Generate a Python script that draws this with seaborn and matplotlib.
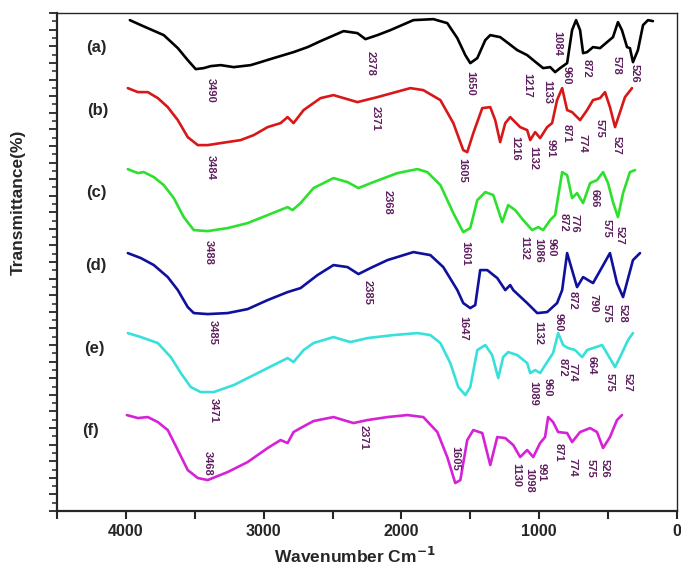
import pandas as pd
import numpy as np
import matplotlib
matplotlib.use("Agg")
import matplotlib.pyplot as plt
from matplotlib.ticker import MultipleLocator, NullFormatter
import seaborn as sns

# ---- data (wavenumber, offset transmittance) ---------------------------------

wn_a = [3971, 3891, 3725, 3623, 3551, 3493, 3435, 3384, 3312, 3217,
        3094, 3022, 2928, 2783, 2681, 2587, 2420, 2319, 2261, 2174,
        2080, 1913, 1768, 1667, 1594, 1536, 1500, 1449, 1391, 1355,
        1283, 1225, 1159, 1087, 1043, 971, 920, 884, 848, 797,
        761, 732, 703, 681, 652, 609, 558, 507, 464, 428,
        399, 362, 341, 319, 283, 246, 210, 174]
t_a = [491, 486, 476, 463, 451, 442, 443, 445, 446, 444,
       446, 449, 453, 459, 464, 470, 480, 478, 472, 476,
       481, 491, 492, 488, 473, 456, 448, 453, 471, 476,
       474, 468, 461, 456, 451, 443, 444, 439, 443, 448,
       481, 491, 481, 458, 459, 464, 463, 469, 474, 489,
       481, 464, 463, 449, 461, 486, 491, 490]

wn_b = [3986, 3913, 3841, 3768, 3696, 3623, 3551, 3478, 3406, 3312,
        3167, 3072, 2971, 2877, 2826, 2783, 2710, 2587, 2493, 2319,
        2174, 1935, 1841, 1717, 1623, 1551, 1522, 1478, 1413, 1355,
        1319, 1283, 1246, 1210, 1138, 1087, 1065, 1029, 993, 942,
        906, 870, 833, 797, 761, 703, 652, 609, 558, 522,
        486, 449, 413, 377, 326]
t_b = [423, 419, 419, 413, 404, 391, 374, 366, 366, 368,
       371, 376, 384, 388, 394, 388, 401, 413, 416, 409,
       414, 423, 421, 411, 388, 361, 359, 378, 403, 404,
       391, 369, 388, 394, 384, 381, 371, 379, 373, 384,
       388, 411, 423, 401, 399, 391, 401, 411, 413, 419,
       404, 384, 399, 414, 423]

wn_c = [3986, 3913, 3870, 3797, 3725, 3652, 3580, 3507, 3406, 3261,
        3116, 2971, 2826, 2790, 2732, 2638, 2493, 2391, 2312, 2203,
        2029, 1884, 1812, 1717, 1623, 1551, 1500, 1449, 1391, 1333,
        1268, 1225, 1174, 1116, 1051, 1007, 971, 920, 884, 833,
        797, 761, 725, 681, 630, 580, 536, 500, 464, 428,
        391, 341, 304]
t_c = [342, 338, 339, 334, 326, 313, 294, 281, 280, 283,
       288, 296, 304, 301, 308, 323, 333, 329, 323, 329,
       338, 342, 339, 326, 298, 279, 283, 311, 319, 316,
       289, 306, 301, 291, 281, 284, 281, 291, 296, 339,
       336, 313, 318, 308, 328, 331, 339, 328, 309, 294,
       318, 339, 341]

wn_d = [3986, 3891, 3797, 3696, 3623, 3551, 3507, 3406, 3261, 3116,
        2971, 2826, 2732, 2609, 2493, 2391, 2312, 2225, 2101, 1913,
        1790, 1696, 1594, 1551, 1500, 1464, 1428, 1377, 1304, 1246,
        1210, 1188, 1087, 1014, 942, 870, 833, 797, 761, 725,
        681, 609, 543, 486, 435, 391, 319, 268]
t_d = [258, 253, 246, 234, 221, 204, 198, 197, 198, 202,
       211, 219, 223, 236, 246, 244, 237, 243, 251, 259,
       256, 244, 221, 208, 203, 206, 241, 241, 233, 221,
       226, 221, 208, 198, 199, 208, 221, 258, 241, 224,
       234, 228, 244, 258, 228, 214, 251, 258]

wn_e = [3986, 3891, 3768, 3674, 3601, 3529, 3457, 3362, 3217, 3072,
        2928, 2826, 2783, 2710, 2638, 2493, 2370, 2246, 2058, 1884,
        1790, 1717, 1645, 1587, 1536, 1500, 1449, 1391, 1341, 1297,
        1261, 1225, 1159, 1087, 1065, 1029, 993, 942, 899, 862,
        826, 790, 739, 688, 652, 609, 543, 500, 449, 399,
        355, 319]
t_e = [178, 174, 168, 154, 138, 124, 119, 119, 126, 136,
       146, 153, 149, 161, 168, 174, 169, 173, 176, 178,
       176, 168, 148, 124, 116, 124, 161, 166, 156, 133,
       154, 159, 156, 148, 138, 141, 138, 149, 158, 178,
       166, 163, 161, 154, 161, 163, 166, 156, 144, 158,
       171, 178]

wn_f = [3993, 3913, 3841, 3768, 3696, 3623, 3551, 3478, 3406, 3261,
        3116, 2971, 2877, 2826, 2783, 2732, 2638, 2493, 2348, 2246,
        2101, 1957, 1841, 1739, 1667, 1609, 1572, 1522, 1478, 1413,
        1355, 1304, 1246, 1188, 1138, 1087, 1043, 993, 957, 935,
        899, 862, 797, 761, 703, 630, 580, 536, 486, 435,
        399]
t_f = [96, 93, 94, 89, 81, 61, 41, 33, 31, 39,
       49, 63, 71, 68, 79, 83, 90, 94, 88, 91,
       94, 96, 94, 79, 54, 28, 31, 71, 81, 78,
       46, 74, 73, 66, 54, 61, 54, 68, 74, 94,
       89, 79, 78, 69, 79, 83, 79, 63, 74, 91,
       96]

samples = ["(a)", "(b)", "(c)", "(d)", "(e)", "(f)"]
sample_label_pos = [(4217, 464), (4203, 401), (4217, 319), (4217, 246), (4232, 163), (4254, 81)]

# peak annotations: (text, wavenumber position, y position)
peaks_a = [("3490", 3384, 421), ("2378", 2225, 448), ("1650", 1500, 428), ("1217", 1087, 426),
           ("1133", 942, 419), ("1084", 870, 468), ("960", 797, 436), ("872", 652, 443),
           ("578", 435, 446), ("526", 304, 438)]
peaks_b = [("3484", 3384, 344), ("2371", 2188, 393), ("1605", 1558, 341), ("1216", 1174, 363),
           ("1132", 1043, 353), ("991", 920, 363), ("871", 797, 378), ("774", 688, 368),
           ("575", 558, 383), ("527", 435, 366)]
peaks_c = [("3488", 3398, 259), ("2368", 2101, 309), ("1601", 1536, 258), ("1132", 1110, 263),
           ("1086", 1007, 261), ("960", 910, 264), ("872", 825, 289), ("776", 740, 288),
           ("666", 594, 313), ("575", 507, 283), ("527", 413, 276)]
peaks_d = [("3485", 3370, 179), ("2385", 2246, 219), ("1647", 1551, 183), ("1132", 1007, 178),
           ("960", 862, 189), ("872", 754, 211), ("790", 609, 208), ("575", 507, 198),
           ("528", 391, 198)]
peaks_e = [("3471", 3362, 101), ("1089", 1043, 118), ("960", 935, 124), ("872", 833, 144),
           ("774", 761, 139), ("664", 616, 146), ("575", 486, 129), ("527", 355, 129)]
peaks_f = [("3468", 3406, 48), ("2371", 2275, 74), ("1605", 1609, 53), ("1130", 1165, 36),
           ("1098", 1075, 31), ("991", 985, 39), ("871", 862, 59), ("774", 761, 44),
           ("575", 625, 43), ("526", 528, 43)]

x_major = [0, 1000, 2000, 3000, 4000]
x_minor = [500, 1500, 2500, 3500, 4500]

# ---- styling -----------------------------------------------------------------

colors = ["#000000", "#d81818", "#2ee02e", "#10109e", "#38e0dc", "#d622d6"]
label_color = "#5e1f5e"

sns.set_style("ticks")
plt.rcParams['font.family'] = ['Liberation Sans', 'DejaVu Sans']

frames = []
for name, wn, t in zip(samples,
                       [wn_a, wn_b, wn_c, wn_d, wn_e, wn_f],
                       [t_a, t_b, t_c, t_d, t_e, t_f]):
    frames.append(pd.DataFrame({"wn": wn, "T": t, "sample": name}))
df = pd.concat(frames, ignore_index=True)

fig = plt.figure(figsize=(6.81, 5.71), dpi=100)
ax = fig.add_axes([0.0837, 0.105, 0.9103, 0.872])

sns.lineplot(data=df, x="wn", y="T", hue="sample", palette=colors,
             estimator=None, sort=False, linewidth=1.9, legend=False, ax=ax)

ax.set_xlim(4500, 0)
ax.set_ylim(0, 498)

ax.set_xticks(x_major)
ax.set_xticklabels([str(v) for v in x_major], fontweight="bold", fontsize=11.5)
ax.set_xticks(x_minor, minor=True)
ax.tick_params(axis="x", which="both", direction="out", length=6, width=1.5)

ax.yaxis.set_major_locator(MultipleLocator(16.6))
ax.yaxis.set_minor_locator(MultipleLocator(8.3))
ax.yaxis.set_major_formatter(NullFormatter())
ax.tick_params(axis="y", which="major", direction="out", length=6, width=1.3)
ax.tick_params(axis="y", which="minor", direction="out", length=3.5, width=1.1)

for side in ["left", "bottom"]:
    ax.spines[side].set_linewidth(1.6)
for side in ["top", "right"]:
    ax.spines[side].set_linewidth(1.0)

ax.set_xlabel("Wavenumber Cm$^{\\mathbf{-1}}$", fontweight="bold", fontsize=12.5)
ax.xaxis.set_label_coords(0.48, -0.07)
ax.set_ylabel("Transmittance(%)", fontweight="bold", fontsize=12.5)
ax.yaxis.set_label_coords(-0.05, 0.62)

for name, (x, y) in zip(samples, sample_label_pos):
    ax.text(x, y, name, fontweight="bold", fontsize=12, ha="center", va="center")

for group in [peaks_a, peaks_b, peaks_c, peaks_d, peaks_e, peaks_f]:
    for txt, x, y in group:
        ax.text(x, y, txt, rotation=-90, ha="center", va="center",
                fontsize=8, fontweight="bold", color=label_color,
                family=['Liberation Sans Narrow', 'Liberation Sans', 'DejaVu Sans'])

fig.savefig("out.png", dpi=100)
